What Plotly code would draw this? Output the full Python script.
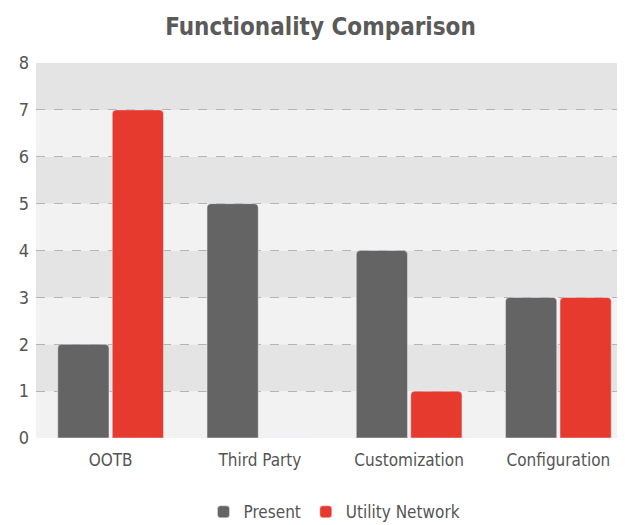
import plotly.graph_objects as go

categories = ["OOTB", "Third Party", "Customization", "Configuration"]
present = [2, 5, 4, 3]
utility_network = [7, 0, 1, 3]
y_ticks = [0, 1, 2, 3, 4, 5, 6, 7, 8]

FONT = "Liberation Sans Narrow, DejaVu Sans Condensed, sans-serif"

fig = go.Figure()
fig.add_trace(go.Bar(x=categories, y=present, name="Present",
                     marker=dict(color="#646464", cornerradius=4)))
fig.add_trace(go.Bar(x=categories, y=utility_network, name="Utility Network",
                     marker=dict(color="#e63a2e", cornerradius=4)))

# alternating background bands
for lo in range(0, 8):
    fig.add_hrect(y0=lo, y1=lo + 1, layer="below", line_width=0,
                  fillcolor="#e4e4e4" if lo % 2 == 1 else "#f2f2f2")

fig.update_layout(
    width=625, height=525,
    margin=dict(l=28, r=0, t=55, b=95, autoexpand=False),
    paper_bgcolor="white", plot_bgcolor="white",
    font=dict(family=FONT, color="#555555", size=17),
    title=dict(text="<b>Functionality Comparison</b>", x=0.5, xanchor="center",
               y=0.965, yanchor="middle", font=dict(size=24, color="#5a5a5a")),
    barmode="group", bargap=0.27, bargroupgap=0.06,
    legend=dict(orientation="h", x=0.5, xanchor="center", y=-0.15, yanchor="top",
                font=dict(size=17), itemwidth=30, traceorder="normal"),
    yaxis=dict(range=[0, 8], tickvals=y_ticks, showgrid=True, gridcolor="#b5b5b5",
               griddash="dash", gridwidth=1, zeroline=False, ticks="",
               ticklabelstandoff=6, automargin=False, tickfont=dict(size=18)),
    xaxis=dict(showgrid=False, ticks="", ticklabelstandoff=10, automargin=False),
)

fig.write_html("out.html")
